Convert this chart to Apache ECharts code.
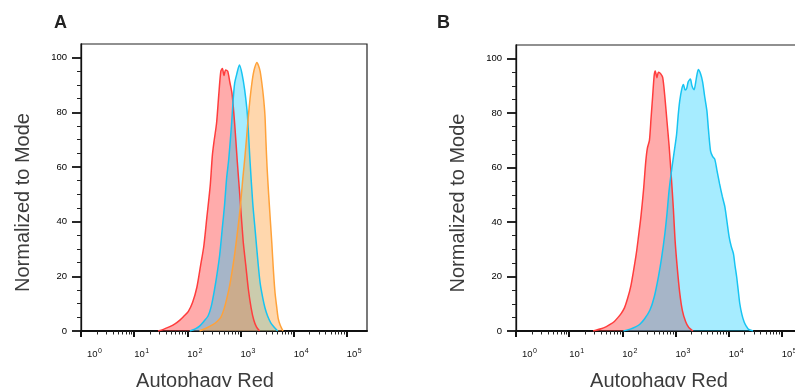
<!DOCTYPE html>
<html>
<head>
<meta charset="utf-8">
<script src="https://cdn.jsdelivr.net/npm/echarts@6/dist/echarts.min.js"></script>
<style>html,body{margin:0;padding:0;background:#fff}#c{width:795px;height:387px}</style>
</head>
<body>
<div id="c"></div>
<script>
// x values are log10(intensity), y = % of mode
const xMajorTicks = [0, 1, 2, 3, 4, 5];
const yMajorTicks = [0, 20, 40, 60, 80, 100];
const yMinorTicks = [5, 10, 15, 25, 30, 35, 45, 50, 55, 65, 70, 75, 85, 90, 95];
const xMinorFactors = [2, 3, 4, 5, 6, 7, 8, 9];

const redA = [[1.45,0],[1.55,0.6],[1.66,1.5],[1.76,2.5],[1.86,4],[1.93,5.3],[2.02,7.2],[2.10,10.5],[2.18,16],[2.25,24],[2.31,31],[2.37,42],[2.43,53],[2.47,64],[2.50,69],[2.55,76],[2.59,86],[2.63,95],[2.66,96],[2.69,93.5],[2.72,95.5],[2.76,95],[2.80,91],[2.84,87],[2.89,76],[2.94,62],[2.99,49],[3.05,33],[3.10,24],[3.15,15],[3.20,8.5],[3.25,4],[3.30,1.5],[3.36,0]];
const blueA = [[2.05,0],[2.15,0.8],[2.23,1.8],[2.31,3.5],[2.39,5.5],[2.45,9],[2.51,15],[2.56,21],[2.61,28],[2.66,38],[2.70,46],[2.74,56],[2.78,63],[2.83,75],[2.86,84],[2.89,90.6],[2.93,94],[2.98,97.3],[3.03,94],[3.08,88],[3.13,79],[3.18,62],[3.23,47],[3.28,36],[3.33,25],[3.37,17.5],[3.42,12],[3.46,8.5],[3.51,5.5],[3.57,3],[3.63,1.5],[3.70,0]];
const orangeA = [[2.23,0],[2.35,1],[2.48,2.3],[2.56,3.5],[2.63,5],[2.69,8],[2.75,12.5],[2.80,17],[2.86,24],[2.91,31],[2.96,39],[3.00,46],[3.04,55],[3.08,63],[3.12,72],[3.15,79],[3.18,85],[3.21,90],[3.24,94],[3.27,96.5],[3.31,98.2],[3.34,97],[3.37,95],[3.40,91],[3.43,86],[3.46,79],[3.48,69],[3.50,60],[3.53,50],[3.56,41],[3.59,32],[3.62,22],[3.65,14],[3.68,9],[3.71,4.5],[3.75,2],[3.80,0]];
const redB = [[1.45,0],[1.60,0.8],[1.70,1.6],[1.77,2.4],[1.85,3.5],[1.92,5],[1.98,6.5],[2.04,8.5],[2.10,12],[2.16,16.5],[2.21,22],[2.26,28],[2.30,34],[2.35,42],[2.40,52],[2.44,62],[2.47,67],[2.51,70],[2.54,78],[2.57,86],[2.60,94],[2.62,95.5],[2.65,93],[2.68,95],[2.72,94.5],[2.76,93],[2.80,86],[2.84,77],[2.88,68],[2.92,57],[2.96,45],[2.99,34],[3.03,24],[3.08,14],[3.13,7.5],[3.19,3.5],[3.25,1.3],[3.33,0]];
const blueB = [[2.02,0],[2.15,0.7],[2.25,1.5],[2.33,2.5],[2.42,4.5],[2.52,7.7],[2.60,12.5],[2.68,20],[2.74,27],[2.80,35.7],[2.84,43],[2.88,51.6],[2.93,59.5],[2.97,65],[3.02,72],[3.05,79],[3.08,84.5],[3.12,89],[3.15,90.5],[3.18,88.5],[3.21,89],[3.24,91.5],[3.28,92.5],[3.31,90],[3.35,88.6],[3.39,92.5],[3.43,96],[3.47,94.5],[3.51,91.5],[3.55,86],[3.59,81],[3.62,74],[3.66,66],[3.70,64],[3.74,63],[3.78,59],[3.83,54],[3.88,49.5],[3.93,45.5],[3.97,40],[4.01,34.5],[4.05,31],[4.09,28.4],[4.12,24],[4.15,20],[4.18,15],[4.21,10],[4.25,6],[4.29,3.4],[4.33,1.8],[4.37,0.7],[4.46,0]];

const X_MIN = 0, X_MAX = 5.38, Y_MIN = 0, Y_MAX = 105;
const FONT = 'Liberation Sans, Arial, sans-serif';

const xMinorTicks = [];
for (let d = 0; d < 5; d++) xMinorFactors.forEach(f => xMinorTicks.push(d + Math.log10(f)));

const colors = {
  red:    {line: '#ff3d3d', fill: 'rgba(255,60,60,0.43)'},
  blue:   {line: '#17c4f2', fill: 'rgba(0,200,255,0.35)'},
  orange: {line: '#ffa23a', fill: 'rgba(255,160,60,0.42)'}
};

function xAxes(gridIndex, namePad) {
  return [{
    type: 'value', gridIndex, min: X_MIN, max: X_MAX, position: 'bottom',
    name: 'Autophagy Red', nameLocation: 'middle', nameGap: 40,
    nameTextStyle: {fontSize: 20, color: '#3c3c3c', fontFamily: FONT, padding: namePad},
    axisLine: {show: true, onZero: false, lineStyle: {color: '#111', width: 2}},
    axisTick: {show: true, customValues: xMajorTicks, length: 6, lineStyle: {color: '#111', width: 2}},
    axisLabel: {
      show: true, customValues: xMajorTicks, align: 'left', margin: 17,
      formatter: v => (v === 0 ? '{f|10}' : '{b|10}') + '{s|' + v + '}',
      rich: {
        b: {fontSize: 9.5, color: '#111', fontFamily: FONT},
        f: {fontSize: 9.5, color: '#111', fontFamily: FONT, padding: [0, 0, 0, 6]},
        s: {fontSize: 7, color: '#111', fontFamily: FONT, padding: [0, 0, 6, 0.5]}
      }
    },
    splitLine: {show: false}
  }, {
    type: 'value', gridIndex, min: X_MIN, max: X_MAX, position: 'bottom',
    axisLine: {show: false, onZero: false},
    axisTick: {show: true, customValues: xMinorTicks, length: 3.5, lineStyle: {color: '#222', width: 1}},
    axisLabel: {show: false},
    splitLine: {show: false}
  }];
}

function yAxes(gridIndex) {
  return [{
    type: 'value', gridIndex, min: Y_MIN, max: Y_MAX, position: 'left',
    name: 'Normalized to Mode', nameLocation: 'middle', nameGap: 48,
    nameTextStyle: {fontSize: 20, color: '#3c3c3c', fontFamily: FONT, padding: [0, 30, 0, 0]},
    axisLine: {show: true, onZero: false, lineStyle: {color: '#111', width: 1.3}},
    axisTick: {show: true, customValues: yMajorTicks, length: 9, lineStyle: {color: '#111', width: 1.8}},
    axisLabel: {show: true, customValues: yMajorTicks, margin: 14, fontSize: 9.5, color: '#000', fontFamily: FONT},
    splitLine: {show: false}
  }, {
    type: 'value', gridIndex, min: Y_MIN, max: Y_MAX, position: 'left',
    axisLine: {show: false, onZero: false},
    axisTick: {show: true, customValues: yMinorTicks, length: 4, lineStyle: {color: '#222', width: 1}},
    axisLabel: {show: false},
    splitLine: {show: false}
  }];
}

function hist(data, c, xi, yi) {
  return {
    type: 'line', data, xAxisIndex: xi, yAxisIndex: yi,
    smooth: 0.25, symbol: 'none', showSymbol: false,
    lineStyle: {color: c.line, width: 1.5},
    areaStyle: {color: c.fill, opacity: 1},
    silent: true, animation: false
  };
}

const chart = echarts.init(document.getElementById('c'), null, {renderer: 'canvas'});
chart.setOption({
  animation: false,
  backgroundColor: '#fff',
  title: [
    {text: 'A', left: 54, top: 14, padding: 0, textStyle: {fontSize: 18, fontWeight: 'bold', color: '#222', fontFamily: FONT}},
    {text: 'B', left: 437, top: 14, padding: 0, textStyle: {fontSize: 18, fontWeight: 'bold', color: '#222', fontFamily: FONT}}
  ],
  grid: [
    {left: 81, top: 44, width: 286, height: 287, show: true, borderColor: '#222', borderWidth: 1.2, backgroundColor: 'transparent', containLabel: false, outerBoundsMode: 'none'},
    {left: 516, top: 45, width: 286, height: 286, show: true, borderColor: '#222', borderWidth: 1.2, backgroundColor: 'transparent', containLabel: false, outerBoundsMode: 'none'}
  ],
  xAxis: [...xAxes(0, [0, 38, 0, 0]), ...xAxes(1, [0, 0, 0, 0])],
  yAxis: [...yAxes(0), ...yAxes(1)],
  series: [
    hist(redA, colors.red, 0, 0),
    hist(blueA, colors.blue, 0, 0),
    hist(orangeA, colors.orange, 0, 0),
    hist(redB, colors.red, 2, 2),
    hist(blueB, colors.blue, 2, 2)
  ]
});
</script>
</body>
</html>
